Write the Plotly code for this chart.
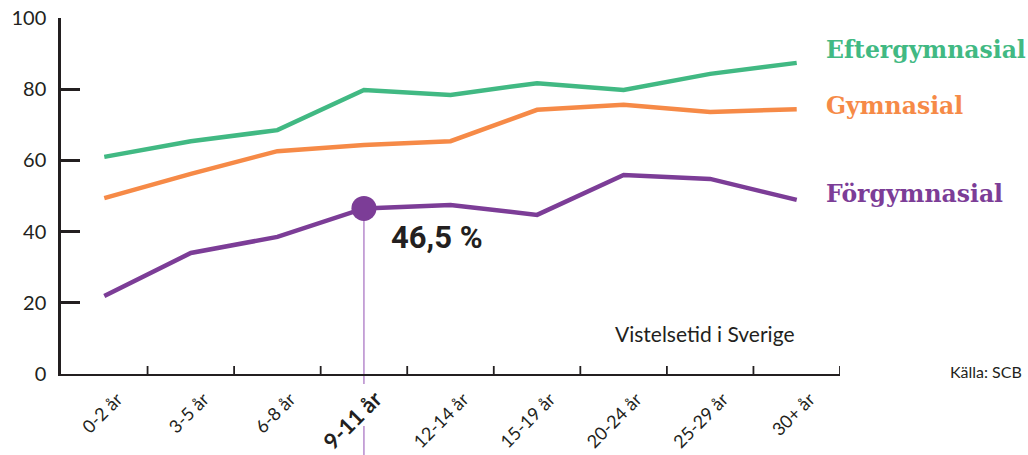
import plotly.graph_objects as go

categories = ["0-2 år", "3-5 år", "6-8 år", "9-11 år", "12-14 år", "15-19 år", "20-24 år", "25-29 år", "30+ år"]
eftergymnasial = [61.0, 65.4, 68.5, 79.8, 78.4, 81.7, 79.8, 84.3, 87.4]
gymnasial = [49.4, 56.2, 62.6, 64.3, 65.4, 74.2, 75.6, 73.6, 74.4]
forgymnasial = [21.9, 34.0, 38.5, 46.5, 47.5, 44.7, 55.9, 54.8, 48.9]
highlight_index = 3
highlight_label = "46,5 %"
y_ticks = [0, 20, 40, 60, 80, 100]

GREEN = "#41b983"
ORANGE = "#f68a47"
PURPLE = "#7c3d97"
DARK = "#231f20"
FONT = "Lato, Open Sans, sans-serif"
SLAB = "DejaVu Serif, serif"

L, R, T, B = 61, 840, 18, 374  # plot area in pixels
W, H = 1028, 455
LABEL_SHIFT = 0.15  # rotated tick labels sit slightly right of category centre

def px(x):
    return (x - L) / (R - L)

def py(y):
    return (B - y) / (B - T)

xs = list(range(len(categories)))
ticktext = []
for i, c in enumerate(categories):
    if i == highlight_index:
        ticktext.append(f"<b><span style='font-size:22px'>{c}</span></b>")
    else:
        ticktext.append(c)

fig = go.Figure()
for name, vals, col in [("Eftergymnasial", eftergymnasial, GREEN),
                        ("Gymnasial", gymnasial, ORANGE),
                        ("Förgymnasial", forgymnasial, PURPLE)]:
    fig.add_trace(go.Scatter(x=xs, y=vals, mode="lines", name=name,
                             line=dict(color=col, width=4.5), cliponaxis=False,
                             hoverinfo="skip"))

fig.add_trace(go.Scatter(x=[xs[highlight_index]], y=[forgymnasial[highlight_index]],
                         mode="markers", marker=dict(color=PURPLE, size=25),
                         cliponaxis=False, hoverinfo="skip"))

VL = dict(color="#a46cc0", width=1.2)
shapes = [
    dict(type="line", xref="x", yref="y", x0=highlight_index, x1=highlight_index,
         y0=forgymnasial[highlight_index], y1=0, line=VL, layer="below"),
    dict(type="line", xref="x", yref="paper", x0=highlight_index, x1=highlight_index,
         y0=0, y1=py(384), line=VL, layer="below"),
    dict(type="line", xref="x", yref="paper", x0=highlight_index, x1=highlight_index,
         y0=py(426), y1=py(460), line=VL, layer="below"),
]

ann = []
for text, ycen, col in [("Eftergymnasial", 50, GREEN),
                        ("Gymnasial", 106, ORANGE),
                        ("Förgymnasial", 194, PURPLE)]:
    ann.append(dict(text=f"<b>{text}</b>", xref="paper", yref="paper",
                    x=px(824), y=py(ycen),
                    xanchor="left", yanchor="middle", showarrow=False,
                    font=dict(family=SLAB, size=23.5, color=col)))
ann.append(dict(text=f"<b>{highlight_label}</b>", x=highlight_index, y=forgymnasial[highlight_index],
                xref="x", yref="y", xanchor="left", yanchor="middle", showarrow=False,
                xshift=25, yshift=-29, font=dict(family="Roboto, sans-serif", size=31, color=DARK)))
ann.append(dict(text="Vistelsetid i Sverige", xref="paper", yref="paper",
                x=px(797), y=py(333),
                xanchor="right", yanchor="middle", showarrow=False,
                font=dict(family=FONT, size=21, color=DARK)))
ann.append(dict(text="Källa: SCB", xref="paper", yref="paper",
                x=px(1024), y=py(371),
                xanchor="right", yanchor="middle", showarrow=False,
                font=dict(family=FONT, size=16, color=DARK)))

fig.update_layout(
    width=W, height=H,
    margin=dict(l=L, r=W - R, t=T, b=H - B, autoexpand=False),
    paper_bgcolor="white", plot_bgcolor="white",
    showlegend=False,
    shapes=shapes, annotations=ann,
    xaxis=dict(range=[-0.5, len(categories) - 0.5],
               tickvals=[i + LABEL_SHIFT for i in xs], ticktext=ticktext,
               tickangle=-45, showgrid=False, zeroline=False, automargin=False,
               showline=True, linecolor=DARK, linewidth=1.5,
               ticks="", ticklabelstandoff=6,
               tickfont=dict(family=FONT, size=18, color=DARK)),
    yaxis=dict(range=[0, 100], tickvals=y_ticks, showgrid=False, zeroline=False,
               automargin=False,
               showline=True, linecolor=DARK, linewidth=2.5,
               ticks="inside", ticklen=19, tickwidth=2.5, tickcolor=DARK,
               ticklabelstandoff=8,
               tickfont=dict(family=FONT, size=20, color=DARK)),
)

# boundary ticks on x axis (category boundaries)
for b in range(1, len(categories) + 1):
    fig.add_shape(type="line", xref="x", yref="paper", x0=b - 0.5, x1=b - 0.5,
                  y0=0, y1=py(366), line=dict(color=DARK, width=1.8))

fig.write_html("out.html", config={"displayModeBar": False},
               post_script="document.body.style.margin='0';document.body.style.overflow='hidden';")
